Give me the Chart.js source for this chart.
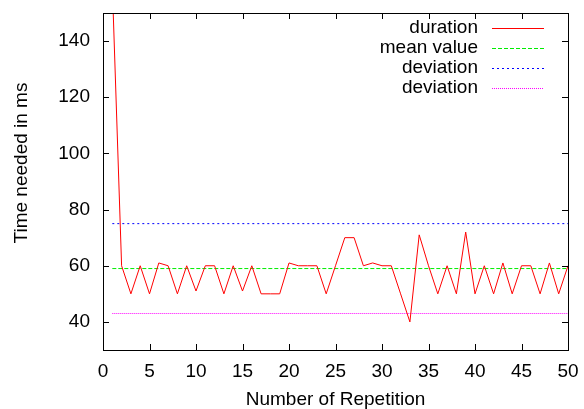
<!DOCTYPE html>
<html>
<head>
<meta charset="utf-8">
<script src="https://cdn.jsdelivr.net/npm/chart.js@4"></script>
<style>
	html, body { margin: 0; padding: 0; background: #fff; }
	#wrap { width: 584px; height: 409px; }
</style>
</head>
<body>
<div id="wrap"><canvas id="timeChart" width="584" height="409"></canvas></div>
<script>
const repetitions = Array.from({ length: 50 }, (_, i) => i + 1);
const durations = [
	160, 60, 50, 60, 50, 61, 60, 50, 60, 51,
	60, 60, 50, 60, 51, 60, 50, 50, 50, 61,
	60, 60, 60, 50, 60, 70, 70, 60, 61, 60,
	60, 50, 40, 71, 60, 50, 60, 50, 72, 50,
	60, 50, 61, 50, 60, 60, 50, 61, 50, 60,
];
const meanValue = 59;
const deviationHigh = 75;
const deviationLow = 43;
const xTicks = [0, 5, 10, 15, 20, 25, 30, 35, 40, 45, 50];
const yTicks = [40, 60, 80, 100, 120, 140];

const FONT = 'Liberation Sans, Arial, sans-serif';

function flatLine(v) {
	return [
		{ x: repetitions[0], y: v },
		{ x: repetitions[repetitions.length - 1], y: v },
	];
}

// gnuplot look: box border, inward ticks on all sides, key at top right
const gnuplotFrame = {
	id: 'gnuplotFrame',
	afterDraw(chart) {
		const { ctx, chartArea: a, scales } = chart;
		const len = 6;
		ctx.save();
		ctx.strokeStyle = '#000';
		ctx.lineWidth = 1;
		ctx.beginPath();
		for (const v of xTicks) {
			const px = Math.round(scales.x.getPixelForValue(v)) + 0.5;
			ctx.moveTo(px, a.bottom);
			ctx.lineTo(px, a.bottom - len);
			ctx.moveTo(px, a.top);
			ctx.lineTo(px, a.top + len);
		}
		for (const v of yTicks) {
			const py = Math.round(scales.y.getPixelForValue(v)) + 0.5;
			ctx.moveTo(a.left, py);
			ctx.lineTo(a.left + len, py);
			ctx.moveTo(a.right, py);
			ctx.lineTo(a.right - len, py);
		}
		ctx.stroke();
		ctx.strokeRect(Math.round(a.left) + 0.5, Math.round(a.top) + 0.5,
			Math.round(a.right - a.left), Math.round(a.bottom - a.top));

		// key
		ctx.font = '19px ' + FONT;
		ctx.textBaseline = 'middle';
		ctx.textAlign = 'right';
		chart.data.datasets.forEach((ds, i) => {
			const y = 28 + i * 20;
			ctx.fillStyle = '#000';
			ctx.fillText(ds.label, 478, y);
			ctx.strokeStyle = ds.borderColor;
			ctx.setLineDash(ds.borderDash || []);
			ctx.beginPath();
			ctx.moveTo(492, Math.round(y) + 0.5);
			ctx.lineTo(544, Math.round(y) + 0.5);
			ctx.stroke();
		});
		ctx.setLineDash([]);

		// axis titles
		ctx.fillStyle = '#000';
		ctx.textAlign = 'center';
		ctx.fillText('Number of Repetition', (a.left + a.right) / 2, 400);
		ctx.translate(22, 163);
		ctx.rotate(-Math.PI / 2);
		ctx.fillText('Time needed in ms', 0, 0);
		ctx.restore();
	},
};

new Chart(document.getElementById('timeChart'), {
	type: 'line',
	data: {
		datasets: [
			{
				label: 'duration',
				data: repetitions.map((r, i) => ({ x: r, y: durations[i] })),
				borderColor: '#ff0000',
				borderWidth: 1,
				pointRadius: 0,
			},
			{
				label: 'mean value',
				data: flatLine(meanValue),
				borderColor: '#00ee00',
				borderDash: [4, 2],
				borderWidth: 1,
				pointRadius: 0,
			},
			{
				label: 'deviation',
				data: flatLine(deviationHigh),
				borderColor: '#0000ff',
				borderDash: [2, 3],
				borderWidth: 1,
				pointRadius: 0,
			},
			{
				label: 'deviation',
				data: flatLine(deviationLow),
				borderColor: '#ff00ff',
				borderDash: [1, 1],
				borderWidth: 1,
				pointRadius: 0,
			},
		],
	},
	options: {
		responsive: false,
		animation: false,
		layout: { padding: { top: 13, right: 16, left: 0, bottom: 0 } },
		plugins: { legend: { display: false }, tooltip: { enabled: false } },
		scales: {
			x: {
				type: 'linear',
				min: 0,
				max: 50,
				afterBuildTicks: (s) => { s.ticks = xTicks.map((v) => ({ value: v })); },
				afterFit: (s) => {
					s.height = 59;
					s.paddingLeft = 0;
					s.paddingRight = 0;
				},
				grid: { display: false, drawTicks: false },
				border: { display: false },
				ticks: { color: '#000', padding: 10, font: { family: FONT, size: 19 }, maxRotation: 0 },
			},
			y: {
				type: 'linear',
				min: 30,
				max: 150,
				afterBuildTicks: (s) => { s.ticks = yTicks.map((v) => ({ value: v })); },
				afterFit: (s) => {
					s.width = 103;
					s.paddingTop = 0;
					s.paddingBottom = 0;
				},
				grid: { display: false, drawTicks: false },
				border: { display: false },
				ticks: { color: '#000', padding: 13, font: { family: FONT, size: 19 } },
			},
		},
	},
	plugins: [gnuplotFrame],
});
</script>
</body>
</html>
